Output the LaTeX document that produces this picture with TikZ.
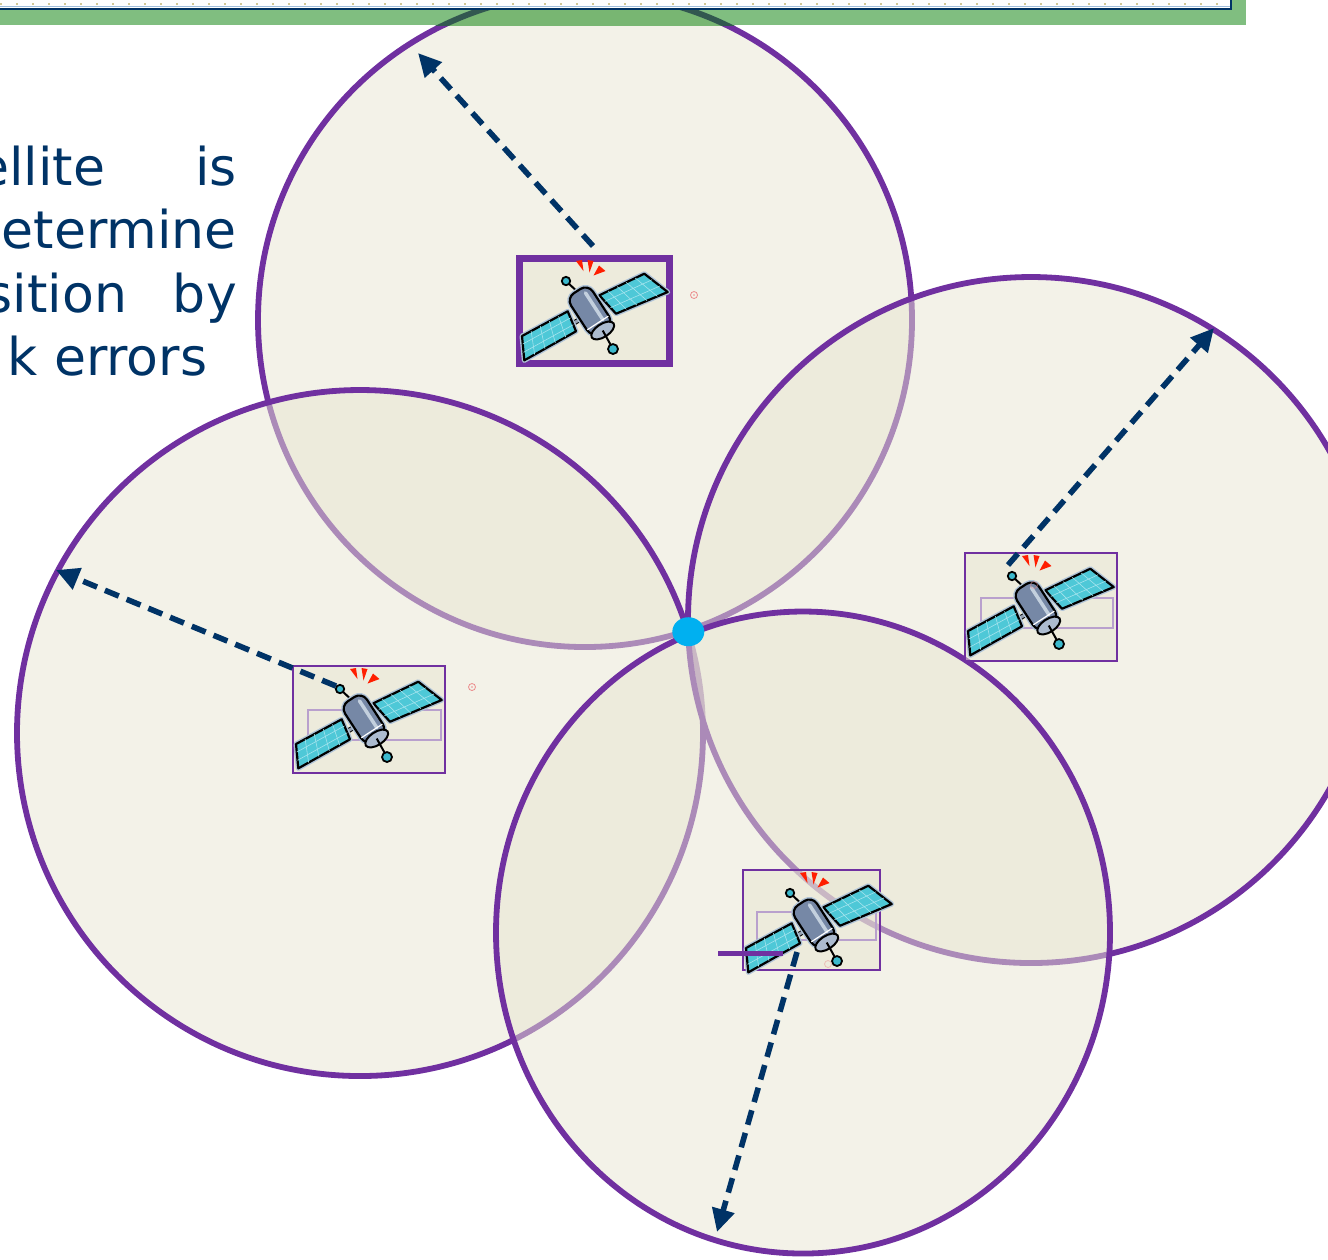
\documentclass[tikz,border=0pt]{standalone}
\usepackage{fontspec}
\usepackage{tikz}
\usetikzlibrary{arrows.meta}
\usetikzlibrary{calc}
\newfontfamily\slidefont{DejaVu Sans}

\definecolor{satpurple}{RGB}{112,48,160}
\definecolor{zonefill}{RGB}{231,229,209}
\definecolor{navy}{RGB}{0,51,102}
\definecolor{fixcyan}{RGB}{0,176,240}
\definecolor{bargreen}{RGB}{128,190,128}
\definecolor{bartint}{RGB}{120,182,114}
\definecolor{bardark}{RGB}{50,88,80}
\definecolor{stripdot}{RGB}{210,200,150}
\definecolor{stripline}{RGB}{160,190,220}
\definecolor{panelcyan}{RGB}{78,200,215}
\definecolor{panelgrid}{RGB}{165,228,238}
\definecolor{panelhalo}{RGB}{175,195,215}
\definecolor{hullgray}{RGB}{118,136,166}
\definecolor{hulllight}{RGB}{195,208,222}
\definecolor{capgray}{RGB}{172,187,207}
\definecolor{strutgray}{RGB}{150,160,175}
\definecolor{slotpurple}{RGB}{185,160,205}
\definecolor{markred}{RGB}{235,140,140}
\definecolor{signalred}{RGB}{255,30,0}
\definecolor{ballcyan}{RGB}{60,185,205}

% one solar panel: corners in order, long side first
\newcommand{\satpanel}[4]{%
  \draw[panelhalo, line width=0.05cm, line join=round] #1 -- #2 -- #3 -- #4 -- cycle;
  \draw[black, line width=0.022cm, fill=panelcyan, line join=round] #1 -- #2 -- #3 -- #4 -- cycle;
  \foreach \f in {0.2,0.4,0.6,0.8}
    \draw[panelgrid, line width=0.006cm] ($#1!\f!#2$) -- ($#4!\f!#3$);
  \foreach \f in {0.33,0.67}
    \draw[panelgrid, line width=0.006cm] ($#1!\f!#4$) -- ($#2!\f!#3$);
}

\tikzset{zone/.style = {draw=satpurple, line width=0.058cm,
                        fill=zonefill, fill opacity=0.5}}
\tikzset{rangearrow/.style = {draw=navy, line width=0.056cm,
                              dash pattern=on 0.15cm off 0.085cm,
                              -{Triangle[length=0.23cm,width=0.22cm]}}}
\tikzset{satbox/.style = {draw=satpurple, line width=0.02cm,
                          fill=zonefill, fill opacity=0.5}}
\tikzset{slot/.style = {draw=slotpurple, line width=0.018cm}}
\tikzset{slidetext/.style = {text=navy, inner sep=0,
                             font=\slidefont\fontsize{14.8pt}{18pt}\selectfont}}
\tikzset{marker/.style = {draw=markred, line width=0.008cm}}
\tikzset{rod/.style = {black, line width=0.02cm}}
\tikzset{ball/.style = {draw=black, line width=0.018cm, fill=ballcyan}}
\tikzset{strut/.style = {draw=black, line width=0.01cm,
                         double=strutgray, double distance=0.03cm}}

\tikzset{pics/satellite/.style = {code = {
  % signal
  \fill[signalred] (57,3) -- (63,2) -- (64.5,13) -- cycle;
  \fill[signalred] (68.5,2) -- (74.5,3) -- (70.5,14.5) -- cycle;
  \fill[signalred] (80,7.5) -- (86.5,13) -- (74.5,17.5) -- cycle;
  % struts and panels
  \draw[strut] (50,68) -- (63,60);
  \draw[strut] (72,47) -- (86,41);
  \satpanel{(3,78)}{(48.7,53.3)}{(57,73.3)}{(5.3,102.3)}
  \satpanel{(80.3,37.3)}{(125.3,15.7)}{(148.7,34)}{(97,55.7)}
  \draw[rod] (47,23) -- (58.7,34);
  % hull
  \begin{scope}[shift={(71.2,53.2)}, rotate=-57]
    \draw[panelhalo, line width=0.05cm, rounded corners=0.09cm] (-24,-13) rectangle (23,13);
    \draw[black, line width=0.022cm, fill=hullgray, rounded corners=0.09cm] (-24,-13) rectangle (23,13);
    \draw[hulllight, line width=0.035cm, line cap=round] (-18,-6) -- (14,-6);
    \draw[white, line width=0.012cm] (14,-12.5) -- (14,12.5);
    \draw[black, line width=0.02cm, fill=capgray] (23,0) ellipse[x radius=6.5, y radius=13];
  \end{scope}
  \draw[rod] (83.7,72.5) -- (94,91);
  \draw[ball] (47,23) circle[radius=4.2];
  \draw[ball] (94,91) circle[radius=5];
}}}

\begin{document}
\begin{tikzpicture}[x=0.01cm, y=-0.01cm]
  \useasboundingbox (0,0) rectangle (1328,1259);
  \clip (0,0) rectangle (1328,1259);

  % coverage spheres
  \draw[zone] (585,320) circle[radius=327];
  \draw[zone] (360,733) circle[radius=343];
  \draw[zone] (1031,620) circle[radius=343];
  \draw[zone] (803,932.5) ellipse[x radius=307, y radius=321];

  % title bar
  \begin{scope}
    \clip (0,0) rectangle (1246,25);
    \fill[bargreen] (0,0) rectangle (1246,25);
    \fill[bartint] (585,320) circle[radius=327];
    \draw[bardark, line width=0.058cm] (585,320) circle[radius=327];
  \end{scope}
  \fill[white] (0,0) rectangle (1231,8);
  \foreach \x in {0,...,76}
    \fill[stripdot] (16*\x-0.3,3) rectangle (16*\x+1.7,5);
  \draw[stripline, line width=0.01cm] (0,6.8) -- (1230,6.8);
  \draw[navy, line width=0.02cm] (0,8.5) -- (1231,8.5) -- (1231,0);

  % text
  \node[slidetext, anchor=base east] (w1) at (106,185) {ellite};
  \node[slidetext, anchor=base east] (w2) at (237.5,185) {is};
  \node[slidetext, anchor=base east] (w3) at (237.5,248.3) {etermine};
  \node[slidetext, anchor=base east] (w4) at (127.7,312.7) {sition};
  \node[slidetext, anchor=base east] (w5) at (237.5,312.7) {by};
  \node[slidetext, anchor=base east] (w6) at (208,375) {k errors};

  % satellites
  \begin{scope}[shift={(519,258)}]
    \draw[satbox, line width=0.07cm] (0,0) rectangle (150.5,105);
    \pic {satellite};
  \end{scope}
  \begin{scope}[shift={(293,666)}]
    \draw[satbox] (0,0) rectangle (152,107);
    \draw[slot] (15,44) rectangle (148,74);
    \pic {satellite};
  \end{scope}
  \begin{scope}[shift={(965,553)}]
    \draw[satbox] (0,0) rectangle (152,108);
    \draw[slot] (15.7,45) rectangle (148,75);
    \pic {satellite};
  \end{scope}
  \begin{scope}[shift={(743,870)}, scale=0.91]
    \draw[satbox] (0,0) rectangle (150,110);
    \draw[slot] (15,46) rectangle (146,77);
    \pic {satellite};
  \end{scope}
  \draw[satpurple, line width=0.047cm] (718,953.7) -- (783,953.7);

  \foreach \p in {(694,295),(472,687)} {
    \draw[marker] \p circle[radius=3.5];
    \fill[markred] \p circle[radius=0.9];
  }
  \foreach \p in {(1034,585),(828,964)} {
    \draw[marker, opacity=0.5] \p circle[radius=3.5];
  }

  % ranges
  \coordinate (s1) at (593,246);
  \coordinate (e1) at (418,53);
  \coordinate (s2) at (1008,565);
  \coordinate (e2) at (1214,328);
  \coordinate (s3) at (336,686);
  \coordinate (e3) at (56,570);
  \coordinate (s4) at (797,952);
  \coordinate (e4) at (717,1232);
  \foreach \n in {1,...,4}
    \draw[rangearrow] (s\n) -- (e\n);

  % fix
  \fill[fixcyan] (688.3,631.7) ellipse[x radius=16, y radius=14.5];
\end{tikzpicture}
\end{document}
